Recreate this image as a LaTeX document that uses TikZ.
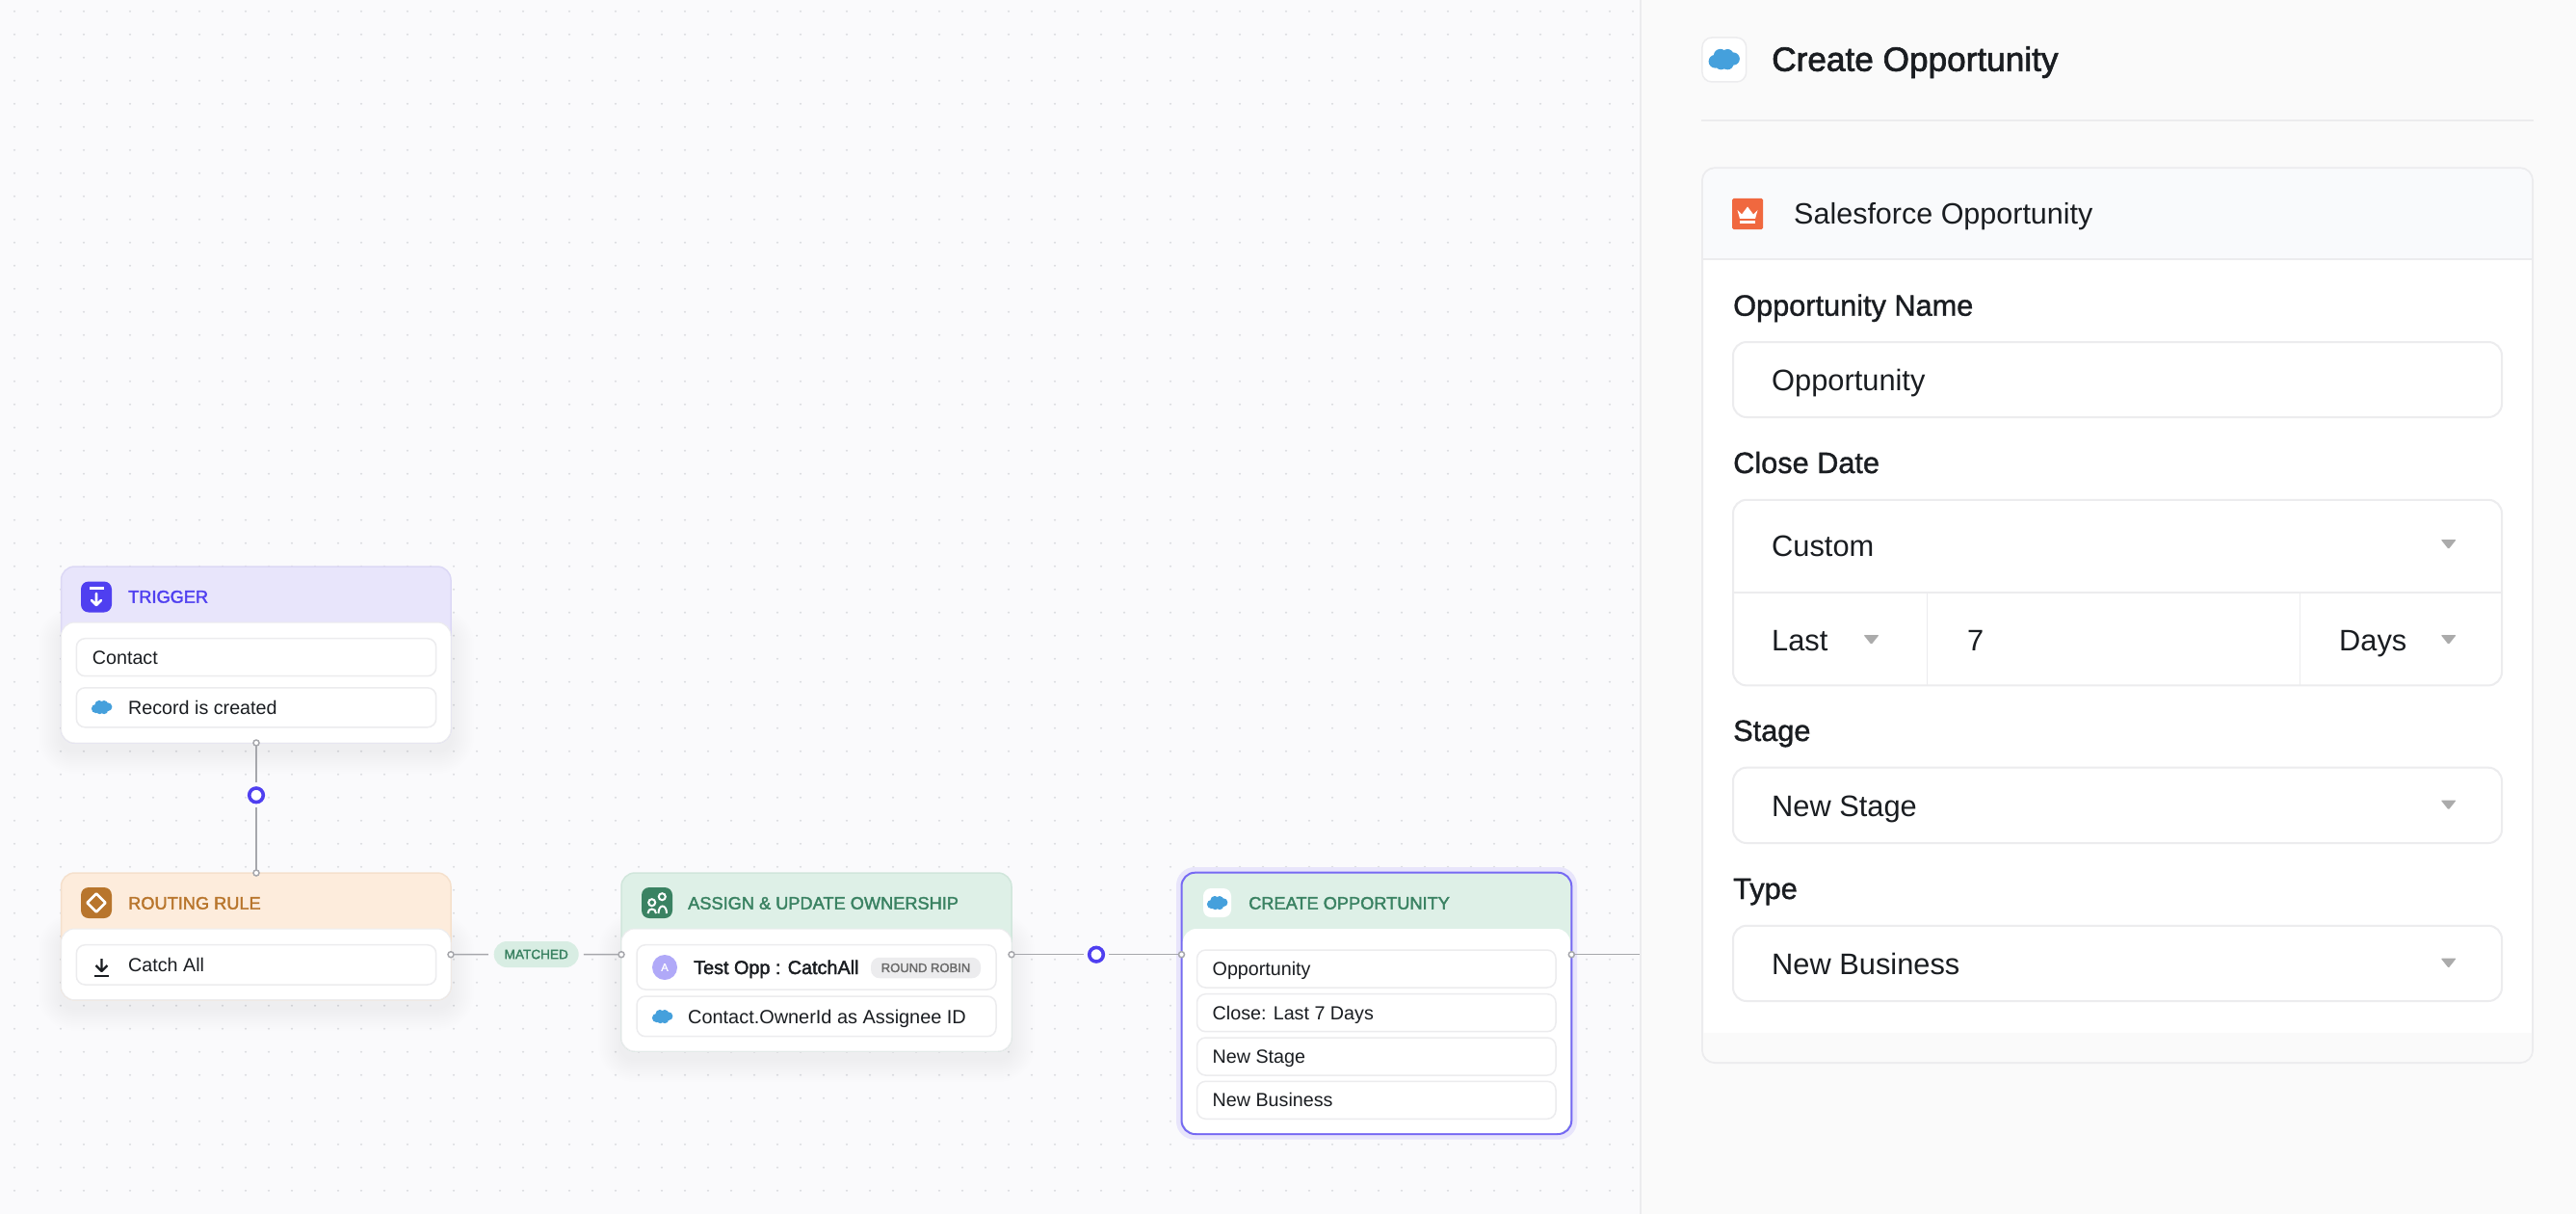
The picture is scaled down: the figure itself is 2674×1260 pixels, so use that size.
\documentclass[tikz,border=0pt]{standalone}
\usepackage{fontspec}
\setmainfont{Liberation Sans}
\newfontfamily\medfont[FakeBold=1.2]{Liberation Sans}
\newfontfamily\semifont[FakeBold=2]{Liberation Sans}
\usetikzlibrary{positioning}

\definecolor{canvasbg}{HTML}{FAFAFC}
\definecolor{panelbg}{HTML}{FAFAFA}
\definecolor{griddot}{HTML}{DADCE0}
\definecolor{hairline}{HTML}{ECECEE}
\definecolor{inktext}{HTML}{1A1D21}
\definecolor{wiregray}{HTML}{A6A7AC}
\definecolor{violet}{HTML}{4F3FF0}
\definecolor{violetsoft}{HTML}{E8E5FB}
\definecolor{violetedge}{HTML}{DCD8F5}
\definecolor{amber}{HTML}{B8752C}
\definecolor{ambersoft}{HTML}{FDECDC}
\definecolor{amberedge}{HTML}{F5E0CC}
\definecolor{leaf}{HTML}{3A8262}
\definecolor{leafsoft}{HTML}{DEF0E7}
\definecolor{leafedge}{HTML}{D0E6DB}
\definecolor{pillgreen}{HTML}{D8EDE3}
\definecolor{pillgray}{HTML}{ECECEE}
\definecolor{sfblue}{HTML}{45A0DC}
\definecolor{crownred}{HTML}{F0683F}
\definecolor{caretgray}{HTML}{ABABAB}
\definecolor{formhead}{HTML}{F9FAFC}

\tikzset{
    sfcloud/.pic={
        \fill[sfblue] (-6,1.5) circle (4.6) (-2.5,-2.5) circle (4.6) (2.5,-2.8) circle (4.2)
            (6.5,-0.3) circle (4.4) (2.5,3) circle (4.2) (-2,3) circle (4.2);
    },
    caret/.pic={
        \fill[caretgray, rounded corners=1pt] (-8,-5) -- (8,-5) -- (0,5) -- cycle;
    }
}

\newcommand{\softshadow}[4]{
    \foreach \s in {2,4,...,24} {
        \fill[black, opacity=0.0028, rounded corners=14pt+\s pt]
            (#1-\s, #2+8-\s) rectangle (#3+\s, #4+8+\s);
    }
}

\begin{document}
\begin{tikzpicture}[
    x=1pt, y=-1pt,
    card/.style={rounded corners=14pt, inner sep=0pt, outer sep=0pt, line width=1.5pt},
    cardbody/.style={card, fill=white, draw=hairline, line width=1pt},
    rowbox/.style={draw=hairline, fill=white, line width=1.5pt, rounded corners=9pt, inner sep=0pt, outer sep=0pt},
    iconbox/.style={rounded corners=8pt, inner sep=0pt, minimum width=32pt, minimum height=32pt},
    field/.style={draw=hairline, fill=white, line width=2pt, rounded corners=14pt, inner sep=0pt, minimum width=798pt},
    handle/.style={circle, draw=wiregray, fill=white, line width=1.5pt, inner sep=0pt, outer sep=0pt, minimum size=6pt},
    ring/.style={circle, draw=violet, fill=white, line width=3.6pt, inner sep=0pt, outer sep=0pt, minimum size=14.6pt},
    wire/.style={draw=wiregray, line width=1.5pt},
    txt/.style={anchor=west, inner sep=0pt, text=inktext, text depth=0pt},
    rowtext/.style={txt, font=\fontsize{19.7pt}{22pt}\selectfont, text height=14pt},
    cardtitle/.style={txt, font=\semifont\fontsize{18.2pt}{22pt}\selectfont, text height=13.3pt},
    fieldlabel/.style={txt, font=\medfont\fontsize{30.7pt}{34pt}\selectfont, text height=22pt},
    fieldtext/.style={txt, font=\fontsize{30.8pt}{34pt}\selectfont, text height=22pt}
]
    \useasboundingbox (0,0) rectangle (2674,1260);
    \fill[canvasbg] (0,0) rectangle (1703,1260);

    % Dotted grid of the canvas
    \foreach \gx in {15,39,...,1695} {
        \fill[griddot] \foreach \gy in {11.7,35.7,...,1259} { (\gx,\gy) circle (1.1pt) };
    }

    % Side panel
    \fill[panelbg] (1703,0) rectangle (2674,1260);
    \draw[hairline, line width=2pt] (1703,0) -- (1703,1260);

    % Shadows under the cards
    \softshadow{63.5}{646}{468}{771}
    \softshadow{63.5}{964}{468}{1037.7}
    \softshadow{645}{964}{1050}{1091}

    % Trigger card
    \node[card, fill=violetsoft, draw=violetedge, minimum width=404.5pt, minimum height=183pt] (trigger) at (265.75,679.5) {};
    \node[cardbody, minimum width=404.5pt, minimum height=125pt] (triggerbody) at (265.75,708.5) {};
    \node[iconbox, fill=violet] (triggericon) at (100,619.5) {};
    \draw[white, line width=2.6pt] (93.3,610.7) -- (107.7,610.7);
    \draw[white, line width=2.6pt, line cap=round, line join=round] (100,616) -- (100,628) (95,623) -- (100,628) -- (105,623);
    \node[cardtitle, text=violet] (triggertitle) at (133,619) {TRIGGER};
    \node[rowbox, minimum width=373.4pt, minimum height=39pt] (contactrow) at (266,682.2) {};
    \node[rowtext] (contacttext) at (95.7,682) {Contact};
    \node[rowbox, minimum width=373.4pt, minimum height=41pt] (recordrow) at (266,734.3) {};
    \pic at (105.5,734) {sfcloud};
    \node[rowtext] (recordtext) at (133,734) {Record is created};

    % Routing rule card
    \node[card, fill=ambersoft, draw=amberedge, minimum width=404.5pt, minimum height=131.7pt] (routing) at (265.75,971.85) {};
    \node[cardbody, minimum width=404.5pt, minimum height=73.7pt] (routingbody) at (265.75,1000.85) {};
    \node[iconbox, fill=amber] (routingicon) at (100,937) {};
    \draw[white, line width=2.6pt, line join=round] (100,927.5) -- (109.5,937) -- (100,946.5) -- (90.5,937) -- cycle;
    \node[cardtitle, text=amber] (routingtitle) at (133,937) {ROUTING RULE};
    \node[rowbox, minimum width=373.4pt, minimum height=41.3pt] (catchrow) at (266,1001.35) {};
    \draw[inktext, line width=2.4pt, line join=round] (105.5,995) -- (105.5,1007.5) (99.5,1002) -- (105.5,1008) -- (111.5,1002);
    \draw[inktext, line width=2.6pt] (98,1013) -- (113,1013);
    \node[rowtext] (catchtext) at (133,1001.7) {Catch All};

    % Assign card
    \node[card, fill=leafsoft, draw=leafedge, minimum width=405pt, minimum height=185pt] (assign) at (847.5,998.5) {};
    \node[cardbody, minimum width=405pt, minimum height=127pt] (assignbody) at (847.5,1027.5) {};
    \node[iconbox, fill=leaf] (assignicon) at (682,937) {};
    \draw[white, line width=2pt] (676.7,936.7) circle (3.5) (687.3,930.7) circle (3.5);
    \draw[white, line width=2pt] (672.5,948) .. controls (672.5,942) and (681,942) .. (681,948);
    \draw[white, line width=2pt] (683.5,948) .. controls (683.5,938) and (692,938) .. (692,948);
    \node[cardtitle, text=leaf] (assigntitle) at (714,937) {ASSIGN \& UPDATE OWNERSHIP};
    \node[rowbox, minimum width=373pt, minimum height=46.3pt] (opprow) at (847.5,1003.85) {};
    \node[circle, fill=violet!45!white, inner sep=0pt, minimum size=26pt, text=white, font=\medfont\fontsize{11pt}{12pt}\selectfont] (avatar) at (690,1004) {A};
    \node[rowtext, font=\semifont\fontsize{19.8pt}{22pt}\selectfont] (opptext) at (720,1004) {Test Opp : CatchAll};
    \node[fill=pillgray, rounded corners=9pt, inner sep=0pt, minimum width=114pt, minimum height=21.5pt, text=black!58, font=\semifont\fontsize{13pt}{14pt}\selectfont] (robinpill) at (961,1004.5) {ROUND ROBIN};
    \node[rowbox, minimum width=373pt, minimum height=41.7pt] (ownerrow) at (847.5,1054.85) {};
    \pic at (687.5,1055) {sfcloud};
    \node[rowtext, font=\fontsize{19.9pt}{22pt}\selectfont] (ownertext) at (714,1055) {Contact.OwnerId as Assignee ID};

    % Create opportunity card, selected
    \node[rounded corners=19pt, fill=violetsoft, inner sep=0pt, minimum width=416pt, minimum height=282.7pt] (halo) at (1429,1041.35) {};
    \node[card, fill=leafsoft, draw=violet!78!white, line width=2pt, minimum width=404.8pt, minimum height=271.3pt] (create) at (1428.9,1041.35) {};
    \node[card, fill=white, minimum width=402pt, minimum height=212pt] (createbody) at (1428.9,1070) {};
    \node[rounded corners=8pt, fill=white, inner sep=0pt, minimum width=29pt, minimum height=30pt] (createicon) at (1263.5,937) {};
    \pic at (1263.5,937) {sfcloud};
    \node[cardtitle, text=leaf] (createtitle) at (1296,937) {CREATE OPPORTUNITY};
    \node[rowbox, minimum width=372.5pt, minimum height=39pt] (namerow) at (1428.75,1005.5) {};
    \node[rowbox, minimum width=372.5pt, minimum height=39pt, below=6.7pt of namerow] (closerow) {};
    \node[rowbox, minimum width=372.5pt, minimum height=39pt, below=6.3pt of closerow] (stagerow) {};
    \node[rowbox, minimum width=372.5pt, minimum height=39pt, below=6.3pt of stagerow] (typerow) {};
    \node[rowtext] (nametext) at (1258.5,1005.5) {Opportunity};
    \node[rowtext] (closetext) at (1258.5,1051) {Close: Last 7 Days};
    \node[rowtext] (stagetext) at (1258.5,1096) {New Stage};
    \node[rowtext] (typetext) at (1258.5,1141.5) {New Business};

    % Connectors
    \node[handle] (triggerout) at (266,771) {};
    \node[handle] (routingin) at (266,906) {};
    \node[handle] (routingout) at (468,990.7) {};
    \node[handle] (assignin) at (645,990.7) {};
    \node[handle] (assignout) at (1050,990.7) {};
    \node[handle] (createin) at (1226.5,990.7) {};
    \node[handle] (createout) at (1631.3,990.7) {};
    \coordinate (paneledge) at (1702,990.7);
    \node[ring] (ringtop) at (266,825.3) {};
    \node[ring] (ringright) at (1138,990.7) {};
    \node[fill=pillgreen, rounded corners=13.5pt, inner sep=0pt, minimum width=88pt, minimum height=27pt, text=leaf, font=\semifont\fontsize{13.6pt}{14pt}\selectfont] (matched) at (556.7,990.5) {MATCHED};

    \draw[wire, shorten >=5.7pt] (triggerout) -- (ringtop);
    \draw[wire, shorten <=5.7pt] (ringtop) -- (routingin);
    \draw[wire, shorten >=5.6pt] (routingout) -- (matched);
    \draw[wire, shorten <=5pt] (matched) -- (assignin);
    \draw[wire, shorten >=5.7pt] (assignout) -- (ringright);
    \draw[wire, shorten <=5.7pt] (ringright) -- (createin);
    \draw[wire] (createout) -- (paneledge);

    % Panel heading
    \node[draw=hairline, fill=white, line width=1.5pt, rounded corners=10pt, inner sep=0pt, minimum width=45.7pt, minimum height=46pt] (panelicon) at (1789.8,62) {};
    \pic[scale=1.5] at (1789.5,61.5) {sfcloud};
    \node[txt, font=\semifont\fontsize{35.2pt}{38pt}\selectfont, text height=24pt] (paneltitle) at (1839,61.7) {Create Opportunity};
    \draw[hairline, line width=2pt] (1766,125) -- (2630,125);

    % Form card
    \node[draw=hairline, fill=white, line width=2pt, rounded corners=13pt, inner sep=0pt, minimum width=862pt, minimum height=928.7pt] (formcard) at (2198,638.65) {};
    \fill[formhead] (1768,268.7) [rounded corners=12pt] -- (1768,175.3) -- (2628,175.3) [sharp corners] -- (2628,268.7) -- cycle;
    \draw[hairline, line width=2pt] (1767,268.7) -- (2629,268.7);
    \fill[panelbg] (1768,1072) [sharp corners] -- (2628,1072) [rounded corners=12pt] -- (2628,1102) -- (1768,1102) [sharp corners] -- cycle;
    \node[rounded corners=1.5pt, fill=crownred, inner sep=0pt, minimum width=32pt, minimum height=32pt] (crownicon) at (1814,222) {};
    \fill[white, line join=round] (1803.5,218) -- (1808,222.5) -- (1814,214.5) -- (1820,222.5) -- (1824.5,218) -- (1822,227) -- (1806,227) -- cycle;
    \fill[white] (1806,229) rectangle (1822,232);
    \node[txt, font=\fontsize{30.5pt}{34pt}\selectfont, text height=22pt] (formtitle) at (1862,222) {Salesforce Opportunity};

    % Fields
    \node[fieldlabel] (namelabel) at (1799,316.7) {Opportunity Name};
    \node[field, minimum height=78pt] (namefield) at (2198,394) {};
    \node[fieldtext] (namevalue) at (1839,394) {Opportunity};

    \node[fieldlabel] (datelabel) at (1799,480) {Close Date};
    \node[field, minimum height=192.6pt] (datefield) at (2198,615.1) {};
    \draw[hairline, line width=2pt] (1799,614.7) -- (2597,614.7);
    \draw[hairline, line width=1.5pt] (2000.3,614.7) -- (2000.3,711.4);
    \draw[hairline, line width=1.5pt] (2387.4,614.7) -- (2387.4,711.4);
    \node[fieldtext] (customvalue) at (1839,566.5) {Custom};
    \pic at (2541.7,565) {caret};
    \node[fieldtext] (lastvalue) at (1839,664) {Last};
    \pic at (1942.5,664) {caret};
    \node[fieldtext] (sevenvalue) at (2042,664) {7};
    \node[fieldtext] (daysvalue) at (2428,664) {Days};
    \pic at (2541.7,664) {caret};

    \node[fieldlabel] (stagelabel) at (1799,758) {Stage};
    \node[field, minimum height=78.3pt] (stagefield) at (2198,835.85) {};
    \node[fieldtext] (stagevalue) at (1839,836) {New Stage};
    \pic at (2541.7,835.5) {caret};

    \node[fieldlabel] (typelabel) at (1799,922) {Type};
    \node[field, minimum height=78.2pt] (typefield) at (2198,999.9) {};
    \node[fieldtext] (typevalue) at (1839,1000) {New Business};
    \pic at (2541.7,999.6) {caret};

\end{tikzpicture}
\end{document}
